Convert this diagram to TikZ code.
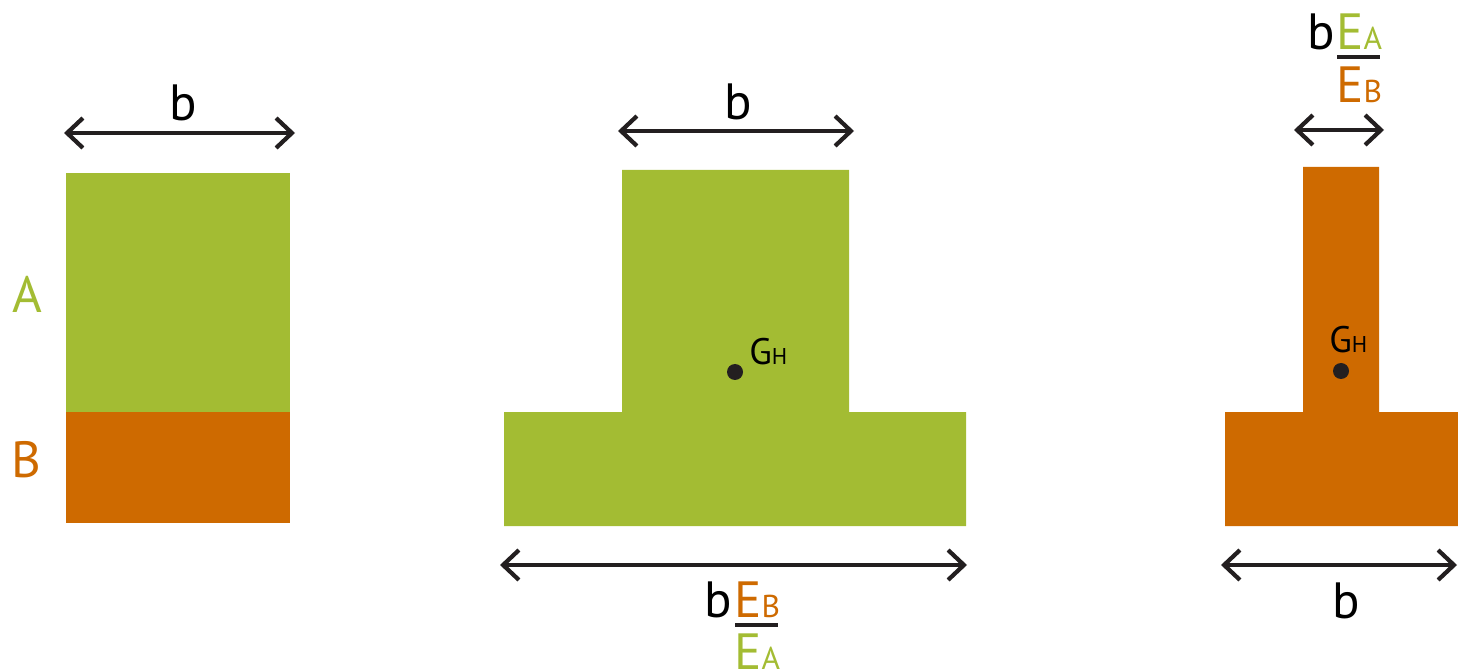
\documentclass[tikz,border=0pt]{standalone}
\usepackage{fontspec}
\setmainfont{PT Sans}
\usetikzlibrary{arrows.meta,positioning}
\definecolor{matA}{RGB}{163,188,51}
\definecolor{matB}{RGB}{206,106,0}
\definecolor{ink}{RGB}{35,31,32}
\tikzset{
  dim/.style={ink,line width=2.4pt,{Straight Barb[length=9pt,width=17pt,line width=2.4pt]}-{Straight Barb[length=9pt,width=17pt,line width=2.4pt]}},
  big/.style={inner sep=0pt,font=\fontsize{29}{32}\selectfont},
  fracbar/.style={ink,line width=2.4pt}
}
\newcommand{\sub}[2]{#1{\fontsize{0.62em}{1em}\selectfont #2}}
\begin{document}
\begin{tikzpicture}[x=0.02cm,y=-0.02cm]
 \useasboundingbox (0,0) rectangle (1458,672);
 % left: two layers
 \fill[matA] (66,173) rectangle (290,412);
 \fill[matB] (66,412) rectangle (290,523);
 \coordinate (l1) at (64,133); \coordinate (l2) at (295,133);
 \draw[dim] (l1) -- (l2);
 \node[big,anchor=base] (lb) at (183,121) {b};
 \node[big,anchor=base,matA] (la) at (27,313) {A};
 \node[big,anchor=base,matB] (lB) at (26,477) {B};
 % middle: section in A
 \fill[matA] (622,170) -- (849,170) -- (849,412) -- (966,412) -- (966,526)
   -- (504,526) -- (504,412) -- (622,412) -- cycle;
 \coordinate (m1) at (618,131); \coordinate (m2) at (854,131);
 \draw[dim] (m1) -- (m2);
 \node[big,anchor=base] (mb) at (738,120) {b};
 \coordinate (m3) at (500,565); \coordinate (m4) at (967,565);
 \draw[dim] (m3) -- (m4);
 \fill[ink] (735,372) circle (8);
 \node[big,anchor=base west] (mg) at (749,365) {\fontsize{21}{23}\selectfont\sub{G}{H}};
 \node[big,anchor=base east] (mfb) at (732,617) {b};
 \node[big,anchor=base west,matB] (mnum) at (734,617) {\sub{E}{B}};
 \node[big,anchor=base west,matA] (mden) at (734,669) {\sub{E}{A}};
 \coordinate (mbar1) at (735,625); \coordinate (mbar2) at (778,625);
 \draw[fracbar] (mbar1) -- (mbar2);
 % right: section in B
 \fill[matB] (1303,167) -- (1379,167) -- (1379,412) -- (1458,412) -- (1458,526)
   -- (1225,526) -- (1225,412) -- (1303,412) -- cycle;
 \coordinate (r1) at (1294,130); \coordinate (r2) at (1384,130);
 \draw[dim] (r1) -- (r2);
 \coordinate (r3) at (1221,565); \coordinate (r4) at (1457,565);
 \draw[dim] (r3) -- (r4);
 \node[big,anchor=base] (rb) at (1346,618) {b};
 \fill[ink] (1341,371) circle (8);
 \node[big,anchor=base west] (rg) at (1329,353) {\fontsize{21}{23}\selectfont\sub{G}{H}};
 \node[big,anchor=base east] (rfb) at (1335,50) {b};
 \node[big,anchor=base west,matA] (rnum) at (1336,50) {\sub{E}{A}};
 \node[big,anchor=base west,matB] (rden) at (1336,103) {\sub{E}{B}};
 \coordinate (rbar1) at (1337,57); \coordinate (rbar2) at (1380,57);
 \draw[fracbar] (rbar1) -- (rbar2);
\end{tikzpicture}
\end{document}
